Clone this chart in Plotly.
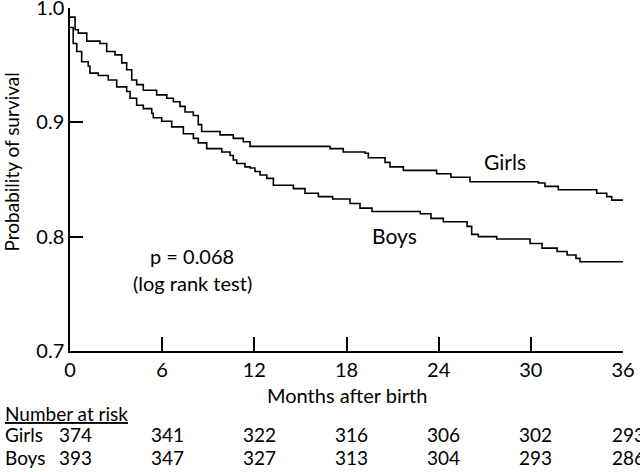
import plotly.graph_objects as go

# Kaplan-Meier step data (months after birth, survival probability)
girls_months = [0, 0.33, 0.54, 1.09, 1.95, 2.39, 2.93, 3.37, 3.69, 4.02, 4.34, 4.77, 5.64, 6.30, 6.73,
                7.16, 7.49, 8.03, 8.35, 8.57, 9.77, 10.63, 11.28, 11.72, 16.93, 17.79, 19.21, 19.42,
                20.51, 20.83, 21.70, 23.87, 24.80, 26.04, 30.49, 30.92, 31.79, 34.29, 34.94, 35.27, 36]
girls_surv = [0.992, 0.981, 0.978, 0.971, 0.969, 0.962, 0.959, 0.952, 0.946, 0.937, 0.933, 0.928, 0.924,
              0.921, 0.918, 0.914, 0.909, 0.906, 0.898, 0.892, 0.889, 0.886, 0.883, 0.879, 0.877, 0.874,
              0.873, 0.869, 0.865, 0.861, 0.858, 0.855, 0.852, 0.848, 0.847, 0.844, 0.841, 0.838, 0.835,
              0.832, 0.832]

boys_months = [0, 0.21, 0.44, 0.76, 1.19, 1.30, 1.84, 2.49, 3.04, 3.69, 3.91, 4.34, 4.77, 5.32, 5.42,
               5.97, 6.62, 7.38, 8.03, 8.35, 8.90, 9.88, 10.42, 10.63, 10.85, 11.39, 11.72, 12.04, 12.37,
               12.81, 13.24, 14.54, 15.30, 16.17, 17.1, 18.23, 18.88, 19.66, 22.8, 23.5, 24.30, 25.85,
               26.15, 26.58, 27.78, 29.95, 30.73, 31.71, 32.36, 32.94, 33.20, 36]
boys_surv = [0.983, 0.969, 0.962, 0.953, 0.949, 0.943, 0.941, 0.937, 0.931, 0.927, 0.921, 0.915, 0.912,
             0.908, 0.904, 0.901, 0.896, 0.890, 0.886, 0.882, 0.877, 0.874, 0.871, 0.867, 0.864, 0.861,
             0.860, 0.857, 0.854, 0.851, 0.845, 0.842, 0.838, 0.835, 0.833, 0.829, 0.825, 0.822, 0.820,
             0.816, 0.813, 0.809, 0.802, 0.800, 0.798, 0.794, 0.790, 0.787, 0.784, 0.781, 0.778, 0.778]

risk_months = [0, 6, 12, 18, 24, 30, 36]
girls_at_risk = [374, 341, 322, 316, 306, 302, 293]
boys_at_risk = [393, 347, 327, 313, 304, 293, 286]

x_ticks = [0, 6, 12, 18, 24, 30, 36]
y_ticks = [0.7, 0.8, 0.9, 1.0]

FONT = "Lato"
fig = go.Figure()
fig.add_trace(go.Scatter(x=girls_months, y=girls_surv, mode="lines", line=dict(shape="hv", color="black", width=1.6),
                         name="Girls", showlegend=False))
fig.add_trace(go.Scatter(x=boys_months, y=boys_surv, mode="lines", line=dict(shape="hv", color="black", width=1.6),
                         name="Boys", showlegend=False))


def txt(x, y, text, xref="x", yref="y", size=20, xanchor="center", **kw):
    return dict(x=x, y=y, xref=xref, yref=yref, text=text, showarrow=False, xanchor=xanchor,
                yanchor="middle", font=dict(size=size), **kw)


ann = [
    txt(28.3, 0.866, "Girls", size=21),
    txt(21.15, 0.801, "Boys", size=21),
    txt(7.95, 0.7827, "p = 0.068"),
    txt(7.95, 0.7597, "(log rank test)"),
    txt(0.5, -0.128, "Months after birth", xref="paper", yref="paper", size=20),
    txt(-0.1065, 0.55, "Probability of survival", xref="paper", yref="paper", size=19, textangle=-90),
    txt(-0.1212, -0.181, "<u>Number at risk</u>", xref="paper", yref="paper", size=19, xanchor="left"),
    txt(-0.1212, -0.243, "Girls", xref="paper", yref="paper", size=19, xanchor="left"),
    txt(-0.1212, -0.310, "Boys", xref="paper", yref="paper", size=19, xanchor="left"),
]
for m, g, b in zip(risk_months, girls_at_risk, boys_at_risk):
    ann.append(txt(m, -0.243, str(g), yref="paper", size=19, xshift=5))
    ann.append(txt(m, -0.310, str(b), yref="paper", size=19, xshift=5))

fig.update_layout(
    width=640, height=472,
    margin=dict(l=70, r=17, t=8, b=121),
    paper_bgcolor="white", plot_bgcolor="white",
    font=dict(family=FONT, size=18, color="black"),
    annotations=ann,
    xaxis=dict(range=[0, 36], tickvals=x_ticks, ticktext=[str(v) for v in x_ticks], ticks="inside",
               ticklen=14, tickwidth=1.5, tickcolor="black", showline=True, linecolor="black", linewidth=1.5,
               showgrid=False, zeroline=False, tickfont=dict(size=20), fixedrange=True,
               ticklabeloverflow="allow", automargin=False),
    yaxis=dict(range=[0.7, 1.0], tickvals=y_ticks, ticktext=["0.7", "0.8", "0.9", "1.0"], ticks="inside",
               ticklen=13, tickwidth=1.5, tickcolor="black", showline=True, linecolor="black", linewidth=1.5,
               showgrid=False, zeroline=False, tickfont=dict(size=20), fixedrange=True,
               ticklabeloverflow="allow", automargin=False),
)

fig.write_html("out.html", config={"displayModeBar": False},
               post_script="document.body.style.margin='0px';document.body.style.overflow='hidden';")
